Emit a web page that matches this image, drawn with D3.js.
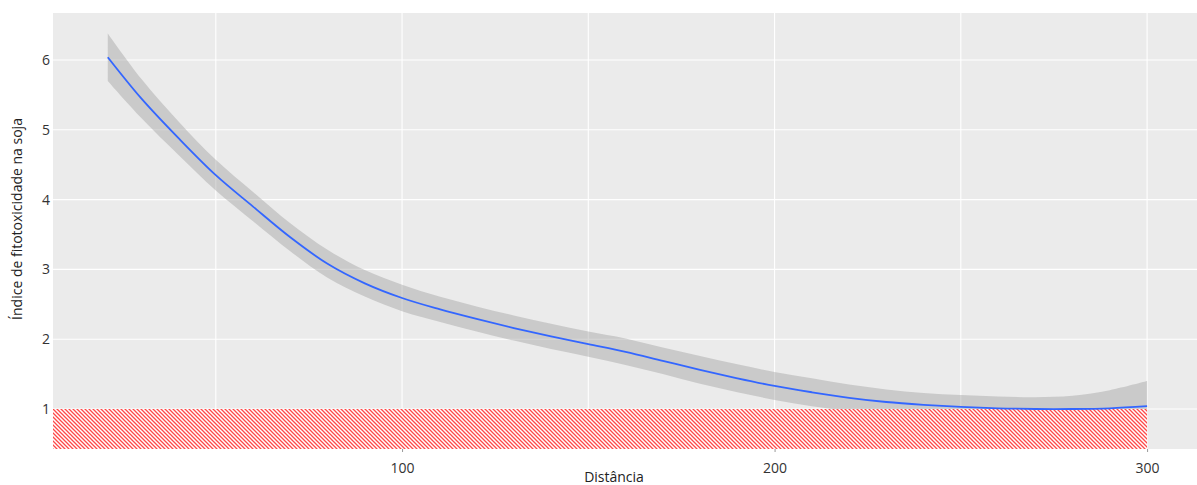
<!DOCTYPE html>
<html>
<head>
<meta charset="utf-8">
<script src="https://cdn.jsdelivr.net/npm/d3@7"></script>
<style>
  body { margin: 0; background: #fff; }
  text { font-family: "Open Sans", sans-serif; }
</style>
</head>
<body>
<svg id="chart" width="1197" height="485"></svg>
<script>
// distance values where the smoothed curve was read
const distancia = [21, 30, 40, 50, 60, 70, 80, 90, 100, 110, 120, 130, 140, 150, 160, 170, 180, 190, 200, 210, 220, 230, 240, 250, 260, 270, 280, 290, 300];
// smoothed fitotoxicity index
const indice = [6.04, 5.45, 4.88, 4.35, 3.90, 3.46, 3.08, 2.80, 2.59, 2.43, 2.29, 2.16, 2.04, 1.93, 1.82, 1.69, 1.56, 1.44, 1.33, 1.24, 1.16, 1.10, 1.06, 1.03, 1.01, 1.00, 1.00, 1.01, 1.04];
// half width of the confidence band
const margem = [0.34, 0.28, 0.24, 0.22, 0.21, 0.20, 0.20, 0.19, 0.19, 0.18, 0.18, 0.18, 0.18, 0.18, 0.19, 0.19, 0.20, 0.20, 0.20, 0.20, 0.19, 0.18, 0.17, 0.17, 0.17, 0.17, 0.19, 0.26, 0.36];

const xTicks = [100, 200, 300];
const xGrid = [50, 100, 150, 200, 250, 300];
const yTicks = [1, 2, 3, 4, 5, 6];
const limiteX = 300;   // hatched zone goes up to this distance
const limiteY = 1;     // and below this index

const svg = d3.select("#chart");

// panel box
const panel = {left: 53, right: 1197, top: 13, bottom: 449};

const x = d3.scaleLinear().domain([6.3, 313.4]).range([panel.left, panel.right]);
const y = d3.scaleLinear().domain([0.427, 6.673]).range([panel.bottom, panel.top]);

const data = distancia.map((d, i) => ({x: d, y: indice[i], lo: indice[i] - margem[i], hi: indice[i] + margem[i]}));

// clip for things drawn inside the panel
svg.append("clipPath").attr("id", "clip")
  .append("rect")
  .attr("x", panel.left).attr("y", panel.top)
  .attr("width", panel.right - panel.left).attr("height", panel.bottom - panel.top);

// hatch pattern
const pat = svg.append("defs").append("pattern")
  .attr("id", "hatch")
  .attr("patternUnits", "userSpaceOnUse")
  .attr("width", 4).attr("height", 4);
pat.append("rect").attr("width", 4).attr("height", 4).attr("fill", "#fff");
pat.append("path")
  .attr("d", "M-1,-1 L5,5 M-1,3 L1,5 M3,-1 L5,1")
  .attr("stroke", "#ff1a1a")
  .attr("stroke-width", 1.3)
  .attr("stroke-opacity", 0.8);

svg.append("rect")
  .attr("x", panel.left).attr("y", panel.top)
  .attr("width", panel.right - panel.left).attr("height", panel.bottom - panel.top)
  .attr("fill", "#ebebeb");

const g = svg.append("g").attr("clip-path", "url(#clip)");

// grid
g.selectAll(".gx").data(xGrid).enter().append("line")
  .attr("x1", d => x(d)).attr("x2", d => x(d))
  .attr("y1", panel.top).attr("y2", panel.bottom)
  .attr("stroke", "#fff").attr("stroke-width", 1.1);
g.selectAll(".gy").data(yTicks).enter().append("line")
  .attr("x1", panel.left).attr("x2", panel.right)
  .attr("y1", d => y(d)).attr("y2", d => y(d))
  .attr("stroke", "#fff").attr("stroke-width", 1.1);

// confidence band
const band = d3.area()
  .x(d => x(d.x))
  .y0(d => y(d.lo))
  .y1(d => y(d.hi))
  .curve(d3.curveCatmullRom);
g.append("path").datum(data)
  .attr("d", band)
  .attr("fill", "#999")
  .attr("fill-opacity", 0.4);

// hatched zone
g.append("rect")
  .attr("x", panel.left)
  .attr("y", y(limiteY))
  .attr("width", x(limiteX) - panel.left)
  .attr("height", panel.bottom - y(limiteY))
  .attr("fill", "url(#hatch)");

// smoothed line
const line = d3.line()
  .x(d => x(d.x))
  .y(d => y(d.y))
  .curve(d3.curveCatmullRom);
g.append("path").datum(data)
  .attr("d", line)
  .attr("fill", "none")
  .attr("stroke", "#3366ff")
  .attr("stroke-width", 1.8);

// x axis
const xAxis = svg.append("g")
  .attr("transform", "translate(0," + panel.bottom + ")")
  .call(d3.axisBottom(x).tickValues(xTicks).tickSize(3).tickPadding(11).tickFormat(d3.format("d")));
xAxis.select(".domain").remove();
xAxis.selectAll("line").attr("stroke", "#999");
xAxis.selectAll("text").attr("font-size", 14).attr("fill", "#333").style("font-family", "'Open Sans', sans-serif");

// y axis
const yAxis = svg.append("g")
  .attr("transform", "translate(" + panel.left + ",0)")
  .call(d3.axisLeft(y).tickValues(yTicks).tickSize(0).tickPadding(3).tickFormat(d3.format("d")));
yAxis.select(".domain").remove();
yAxis.selectAll("text").attr("font-size", 14).attr("fill", "#333").style("font-family", "'Open Sans', sans-serif");

// titles
svg.append("text")
  .attr("x", 614).attr("y", 482)
  .attr("text-anchor", "middle")
  .attr("font-size", 14).attr("fill", "#222")
  .text("Distância");

svg.append("text")
  .attr("transform", "translate(22,219) rotate(-90)")
  .attr("text-anchor", "middle")
  .attr("font-size", 14).attr("fill", "#222")
  .text("Índice de fitotoxicidade na soja");
</script>
</body>
</html>
